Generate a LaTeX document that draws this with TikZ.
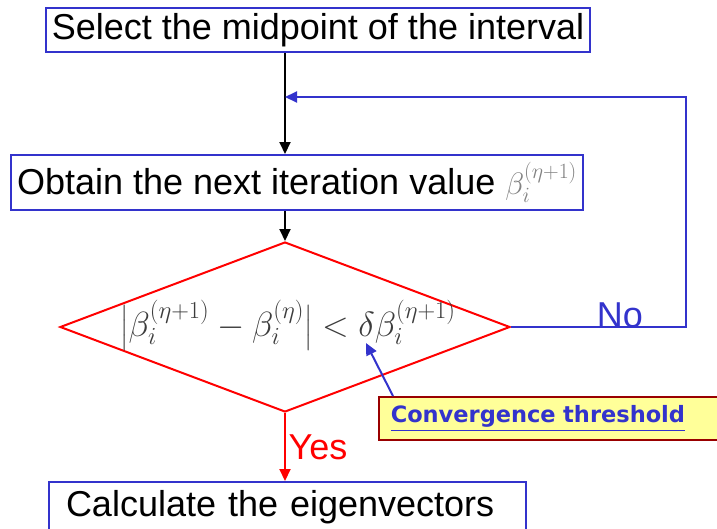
\documentclass[tikz,border=0pt]{standalone}
\usepackage{fix-cm}
\usepackage{amsmath}
\usepackage{fontspec}
\setmainfont{Liberation Sans}
\newfontfamily\calfont{DejaVu Sans}
\usetikzlibrary{shapes.geometric,arrows.meta}
\definecolor{bxblue}{RGB}{51,51,204}
\definecolor{calfill}{RGB}{255,255,153}
\definecolor{calborder}{RGB}{153,0,0}
\definecolor{formgray}{RGB}{60,60,60}
\definecolor{betagray}{RGB}{130,130,130}
\begin{document}
\begin{tikzpicture}[x=1pt,y=-1pt,
  box/.style={draw=bxblue, line width=2pt, inner sep=0pt, font=\fontsize{36}{40}\selectfont},
  tip/.style={-{Triangle[width=11pt,length=12pt]}},
  flow/.style={line width=2pt, tip},
  big/.style={font=\fontsize{36}{40}\selectfont, inner sep=0pt},
]
\useasboundingbox (0,0) rectangle (717,528);
\node[box, minimum width=544pt, minimum height=44pt] (b1) at (318,30) {Select the midpoint of the interval};
\node[box, minimum width=572pt, minimum height=55pt] (b2) at (297,182.5) {Obtain the next iteration value {\fontsize{31}{34}\selectfont\textcolor{betagray}{$\beta_i^{(\eta+1)}$}}};
\node[diamond, draw=red, line width=2pt, minimum width=450pt, minimum height=170pt, inner sep=0pt] (dec) at (285,327) {};
\node[text=formgray, font=\fontsize{35}{40}\selectfont, inner sep=0pt] (form) at (288,325) {$\bigl|\beta_i^{(\eta+1)} - \beta_i^{(\eta)}\bigr| < \delta\beta_i^{(\eta+1)}$};
\node[box, anchor=north west, minimum width=477pt, minimum height=50pt, text width=443pt, inner xsep=17pt, align=left] (b3) at (48,481) {Calculate the eigenvectors};
\node[draw=calborder, fill=calfill, line width=1.5pt, anchor=north west, minimum height=43pt, text width=316pt, inner xsep=12pt, inner ysep=0pt, align=left, font=\calfont\bfseries\fontsize{22.5}{26}\selectfont, text=bxblue] (cal) at (378,396) {\underline{Convergence threshold}};
\coordinate (join) at (285,97);
\coordinate (dtip) at (366,343);
\draw[flow] (b1.south -| dec.north) -- (b2.north -| dec.north);
\draw[flow] (b2.south -| dec.north) -- (dec.north);
\draw[flow, color=bxblue] (dec.east) -- ++(175,0) |- (join);
\node[big, text=bxblue] (no) at (620,315) {No};
\draw[flow, color=red] (dec.south) -- (b3.north -| dec.south);
\node[big, text=red] (yes) at (318,447) {Yes};
\draw[flow, color=bxblue] ([xshift=15pt]cal.north west) -- (dtip);
\end{tikzpicture}
\end{document}
